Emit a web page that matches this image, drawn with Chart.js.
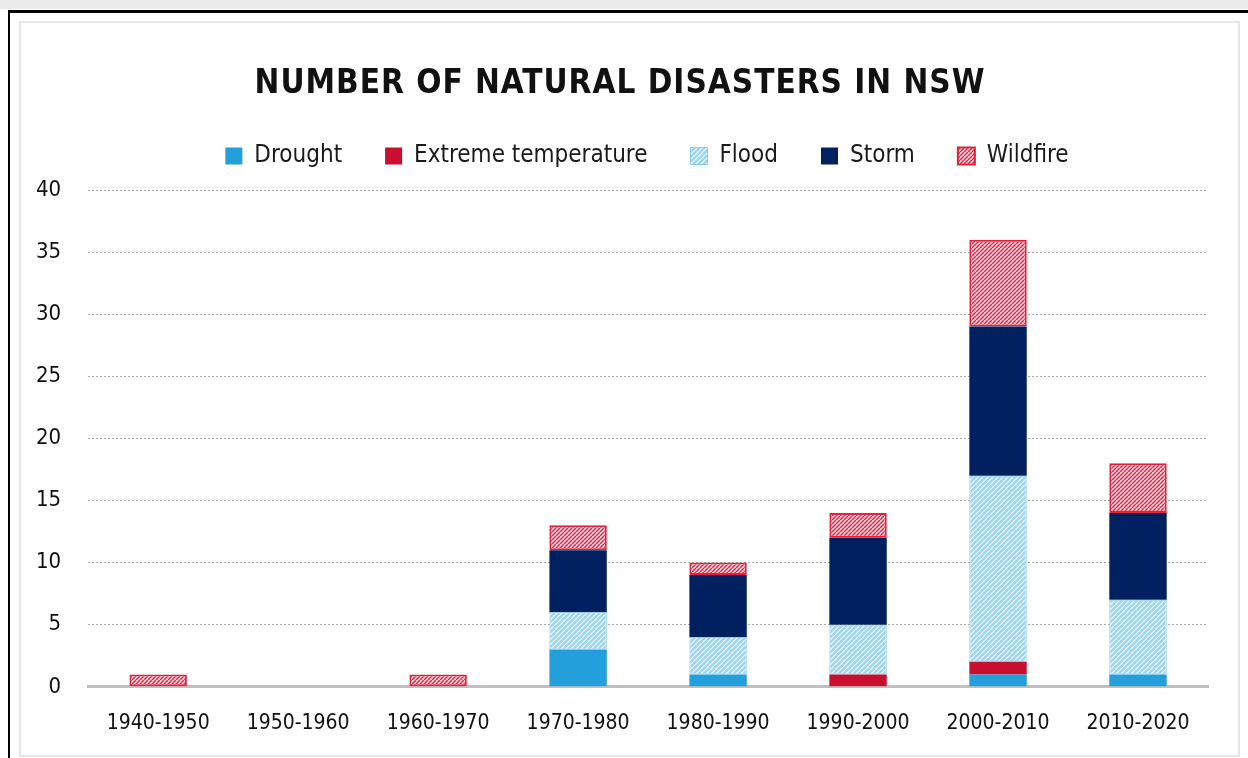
<!DOCTYPE html>
<html>
<head>
<meta charset="utf-8">
<script src="https://cdn.jsdelivr.net/npm/chart.js@4"></script>
<style>
  html, body { margin: 0; padding: 0; background: #fff; }
  #wrap { position: relative; width: 1248px; height: 758px; overflow: hidden; }
  #topband { position: absolute; left: 0; top: 0; width: 1248px; height: 9px; background: #ebebeb; }
  #frame { position: absolute; left: 8px; top: 10px; width: 1260px; height: 800px; border-left: 2px solid #000; border-top: 3px solid #000; }
  #inner { position: absolute; left: 19px; top: 21px; width: 1217px; height: 732px; border: 2px solid #e6e6e6; }
  #c { position: absolute; left: 0; top: 0; }
</style>
</head>
<body>
<div id="wrap">
  <div id="topband"></div>
  <div id="frame"></div>
  <div id="inner"></div>
  <canvas id="c" width="1248" height="758"></canvas>
</div>
<script>
// data
var titleText = 'NUMBER OF NATURAL DISASTERS IN NSW';
var decades = ['1940-1950', '1950-1960', '1960-1970', '1970-1980', '1980-1990', '1990-2000', '2000-2010', '2010-2020'];
var drought = [0, 0, 0, 3, 1, 0, 1, 1];
var extremeTemp = [0, 0, 0, 0, 0, 1, 1, 0];
var flood = [0, 0, 0, 3, 3, 4, 15, 6];
var storm = [0, 0, 0, 5, 5, 7, 12, 7];
var wildfire = [1, 0, 1, 2, 1, 2, 7, 4];

var FONT = "'DejaVu Sans Condensed', 'DejaVu Sans', sans-serif";

// diagonal stripe fill, like the hatched bars
function stripes(bg, fg, size, lw) {
    var c = document.createElement('canvas');
    c.width = c.height = size;
    var x = c.getContext('2d');
    x.fillStyle = bg;
    x.fillRect(0, 0, size, size);
    x.strokeStyle = fg;
    x.lineWidth = lw;
    for (var k = -1; k <= 1; k++) {
        x.beginPath();
        x.moveTo(k * size, size);
        x.lineTo(k * size + size, 0);
        x.stroke();
    }
    return x.createPattern(c, 'repeat');
}

var floodFill = stripes('#9dd5f0', 'rgba(255,255,255,0.85)', 5, 1.2);
var fireFill = stripes('#fde8eb', '#e8243f', 4, 1.5);

// title with letter spacing
var spacedTitle = {
    id: 'spacedTitle',
    afterDraw: function(chart) {
        var ctx = chart.ctx;
        ctx.save();
        ctx.font = 'bold 33px ' + FONT;
        ctx.fillStyle = '#111';
        ctx.textAlign = 'center';
        ctx.textBaseline = 'middle';
        ctx.letterSpacing = '1px';
        ctx.fillText(titleText, 620, 84);
        ctx.restore();
    }
};

// more room under the legend, and centre it where the reference has it
var legendTweak = {
    id: 'legendTweak',
    beforeInit: function(chart) {
        var origFit = chart.legend.fit;
        chart.legend.fit = function() {
            origFit.call(this);
            this.height += 12;
        };
    },
    afterLayout: function(chart) {
        chart.legend.left = 86;
    }
};

var ctx = document.getElementById('c').getContext('2d');
var myChart = new Chart(ctx, {
    type: 'bar',
    data: {
        labels: decades,
        datasets: [
            { label: 'Drought', data: drought, backgroundColor: '#239fdb', borderWidth: 0 },
            { label: 'Extreme temperature', data: extremeTemp, backgroundColor: '#c8102e', borderWidth: 0 },
            { label: 'Flood', data: flood, backgroundColor: floodFill, borderColor: '#86cdef', borderWidth: 1, borderSkipped: false },
            { label: 'Storm', data: storm, backgroundColor: '#002060', borderWidth: 0 },
            { label: 'Wildfire', data: wildfire, backgroundColor: fireFill, borderColor: '#e4203a', borderWidth: 2, borderSkipped: false }
        ]
    },
    options: {
        responsive: false,
        animation: false,
        layout: { padding: { left: 9, right: 40, top: 101, bottom: 6 } },
        datasets: { bar: { categoryPercentage: 1, barPercentage: 0.41 } },
        plugins: {
            title: { display: false },
            tooltip: { enabled: false },
            legend: {
                position: 'top',
                labels: {
                    font: { family: FONT, size: 24 },
                    color: '#1a1a1a',
                    boxWidth: 17,
                    boxHeight: 17,
                    padding: 43
                }
            }
        },
        scales: {
            x: {
                stacked: true,
                grid: { display: false },
                border: { display: true, color: '#bfbfbf', width: 3 },
                ticks: { font: { family: FONT, size: 21 }, color: '#111', padding: 16 }
            },
            y: {
                stacked: true,
                min: 0,
                max: 40,
                ticks: { stepSize: 5, font: { family: FONT, size: 22 }, color: '#111', padding: 27 },
                grid: {
                    drawTicks: false,
                    color: function(c) { return c.tick && c.tick.value === 0 ? 'rgba(0,0,0,0)' : '#a8a8a8'; },
                    lineWidth: 1
                },
                border: { display: false, dash: [2, 2] }
            }
        }
    },
    plugins: [spacedTitle, legendTweak]
});
</script>
</body>
</html>
